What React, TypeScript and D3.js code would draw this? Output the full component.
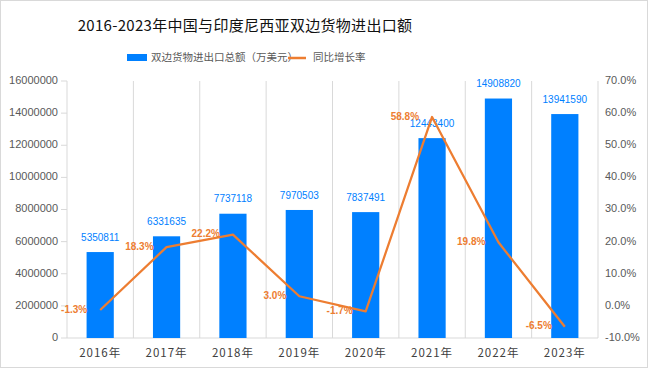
import React from "react";
import * as d3 from "d3";

const years = ["2016年", "2017年", "2018年", "2019年", "2020年", "2021年", "2022年", "2023年"];
const totals = [5350811, 6331635, 7737118, 7970503, 7837491, 12443400, 14908820, 13941590];
const growth = [-1.3, 18.3, 22.2, 3.0, -1.7, 58.8, 19.8, -6.5];
const leftTicks = [0, 2000000, 4000000, 6000000, 8000000, 10000000, 12000000, 14000000, 16000000];
const rightTicks = [-10, 0, 10, 20, 30, 40, 50, 60, 70];

const W = 650, H = 369;
const L = 67, R = 598, T = 81, B = 338;
const BAR = "#0080FF";
const LINE = "#ED7D31";
const GRID = "#D9D9D9";
const FONT = "'Noto Sans CJK SC', 'Noto Sans', sans-serif";
const NUMFONT = "'Liberation Sans', 'Noto Sans', sans-serif";

export default function App() {
  const x = d3.scaleBand<string>().domain(years).range([L, R]).paddingInner(0).paddingOuter(0);
  const y = d3.scaleLinear().domain([0, 16000000]).range([B, T]);
  const y2 = d3.scaleLinear().domain([-10, 70]).range([B, T]);
  const bw = x.bandwidth() * 0.41;
  const cx = (c: string) => (x(c) as number) + x.bandwidth() / 2;
  const line = d3.line<number>().x((_, i) => cx(years[i])).y((d) => y2(d));

  return (
    <svg width={W} height={H} style={{ position: "fixed", left: 0, top: 0, background: "#fff" }}>
      <rect x={0.5} y={0.5} width={W - 3} height={H - 2} fill="#fff" stroke={GRID} />
      <text x={245} y={27} textAnchor="middle" dominantBaseline="middle" fontFamily={FONT} fontSize={15} fill="#111" letterSpacing={0.3}>
        2016-2023年中国与印度尼西亚双边货物进出口额
      </text>
      {/* legend */}
      <rect x={127} y={54} width={20} height={7} fill={BAR} />
      <text x={151} y={58} dominantBaseline="middle" fontFamily={FONT} fontSize={10.5} fill="#595959">双边货物进出口总额（万美元）</text>
      <line x1={288} x2={306} y1={58} y2={58} stroke={LINE} strokeWidth={2.5} />
      <text x={313} y={58} dominantBaseline="middle" fontFamily={FONT} fontSize={10.5} fill="#595959">同比增长率</text>

      {/* grid */}
      {years.slice(1).map((c) => (
        <line key={c} x1={x(c)} x2={x(c)} y1={T} y2={B} stroke={GRID} />
      ))}
      <line x1={L} x2={L} y1={T} y2={B} stroke={GRID} />
      <line x1={R} x2={R} y1={T} y2={B} stroke={GRID} />
      <line x1={L} x2={R} y1={B} y2={B} stroke={GRID} />

      {leftTicks.map((t) => (
        <g key={t}>
          <line x1={61} x2={L} y1={y(t)} y2={y(t)} stroke={GRID} />
          <text x={58} y={y(t)} textAnchor="end" dominantBaseline="middle" fontFamily={NUMFONT} fontSize={11} fill="#595959">{t}</text>
        </g>
      ))}
      {rightTicks.map((t) => (
        <text key={t} x={605} y={y2(t)} dominantBaseline="middle" fontFamily={NUMFONT} fontSize={11} fill="#595959">{t.toFixed(1)}%</text>
      ))}

      {years.map((c, i) => (
        <g key={c}>
          <rect x={cx(c) - bw / 2} y={y(totals[i])} width={bw} height={B - y(totals[i])} fill={BAR} />
          <text x={cx(c)} y={y(totals[i]) - 14} textAnchor="middle" dominantBaseline="middle" fontFamily={NUMFONT} fontSize={10} fill={BAR}>{totals[i]}</text>
          <text x={cx(c)} y={354} textAnchor="middle" dominantBaseline="middle" fontFamily={FONT} fontSize={11.5} fill="#404040" letterSpacing={1}>{c}</text>
        </g>
      ))}

      <path d={line(growth) as string} fill="none" stroke={LINE} strokeWidth={2.25} strokeLinejoin="round" />
      {years.map((c, i) => (
        <text key={c} x={cx(c) - 13} y={y2(growth[i])} textAnchor="end" dominantBaseline="middle" fontFamily={NUMFONT} fontSize={10} fontWeight="bold" fill={LINE}>{growth[i].toFixed(1)}%</text>
      ))}
    </svg>
  );
}
